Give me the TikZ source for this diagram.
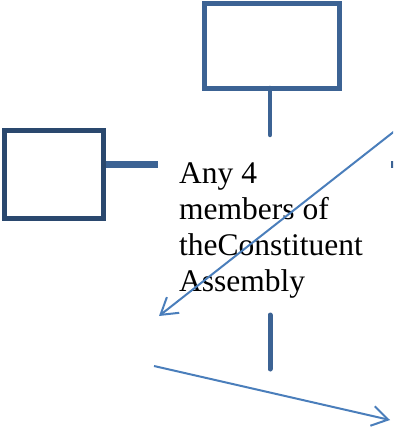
\documentclass[tikz,border=0pt]{standalone}
\usepackage{fontspec}
\setmainfont{Liberation Serif}
\usetikzlibrary{arrows.meta}
\definecolor{boxblue}{RGB}{60,99,148}
\definecolor{navyblue}{RGB}{42,72,110}
\definecolor{arrowblue}{RGB}{74,126,187}
\tikzset{
  emptybox/.style={draw=boxblue, line width=5pt, minimum width=#1, inner sep=0pt},
  stub/.style={draw=boxblue, line width=7pt},
  vstub/.style={draw=boxblue, line width=4.5pt, line cap=round},
  thinarrow/.style={draw=arrowblue, line width=2pt, -{Straight Barb[length=16pt,width=20pt,line width=2pt]}},
  label/.style={inner sep=0pt, anchor=base west, text=black, font=\fontsize{31.5}{36}\selectfont}
}
\begin{document}
\begin{tikzpicture}[x=1pt,y=-1pt]
\useasboundingbox (0,0) rectangle (393,430);
\clip (0,0) rectangle (393,430);
\node[emptybox=135pt, minimum height=84.5pt] (top) at (272,46.25) {};
\node[emptybox=98.5pt, minimum height=87.5pt, draw=navyblue] (left) at (53.75,174.25) {};
\node[label] (txt) at (179,183) {\begin{tabular}[t]{@{}l@{}}Any 4\\members of\\theConstituent\\Assembly\end{tabular}};
\coordinate (topend) at (270,135);
\coordinate (leftend) at (158,165);
\coordinate (rightstub) at (391,165);
\coordinate (rightstubend) at (405,165);
\coordinate (lowtop) at (270,315);
\coordinate (lowbot) at (270,369);
\coordinate (a1start) at (410,119);
\coordinate (a1tip) at (159,316);
\coordinate (a2start) at (154,366);
\coordinate (a2tip) at (390,420);
\draw[vstub] (270,88) -- (topend);
\draw[stub] (left.east |- leftend) -- (leftend);
\draw[stub] (rightstub) -- (rightstubend);
\draw[vstub, line width=5pt] (lowtop) -- (lowbot);
\draw[thinarrow] (a1start) -- (a1tip);
\draw[thinarrow] (a2start) -- (a2tip);
\end{tikzpicture}
\end{document}
